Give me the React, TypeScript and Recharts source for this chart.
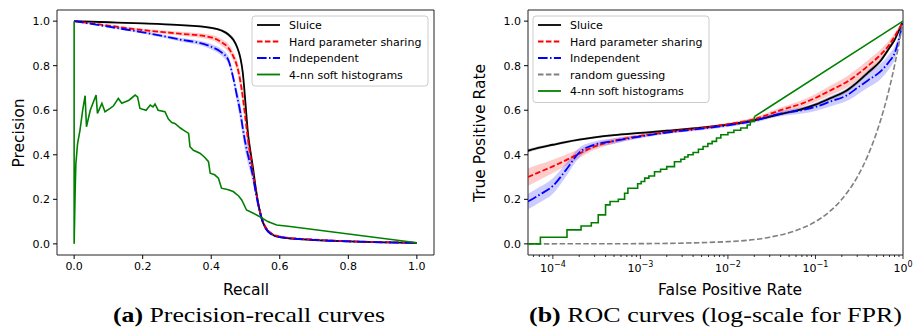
import { ComposedChart, Line, Area, XAxis, YAxis, ReferenceArea } from 'recharts'

const FONT = '"DejaVu Sans", sans-serif'

// ---- (a) precision-recall ----
const RECALL = [0, 0.1, 0.2, 0.3, 0.4, 0.43, 0.45, 0.465, 0.475, 0.485, 0.492, 0.5, 0.507, 0.515, 0.522, 0.53, 0.54, 0.55, 0.56, 0.575, 0.6, 0.7, 0.8, 0.9, 1.0]
const PR_SLUICE = [1.0, 0.995, 0.99, 0.983, 0.97, 0.958, 0.94, 0.915, 0.885, 0.835, 0.77, 0.63, 0.5, 0.41, 0.34, 0.25, 0.16, 0.1, 0.068, 0.045, 0.03, 0.017, 0.011, 0.007, 0.004]
const PR_HARD = [1.0, 0.98, 0.96, 0.945, 0.927, 0.905, 0.88, 0.84, 0.8, 0.73, 0.66, 0.56, 0.47, 0.39, 0.32, 0.24, 0.16, 0.105, 0.072, 0.048, 0.033, 0.019, 0.012, 0.008, 0.005]
const PR_INDEP = [1.0, 0.975, 0.95, 0.92, 0.885, 0.86, 0.825, 0.74, 0.665, 0.59, 0.52, 0.45, 0.4, 0.35, 0.3, 0.23, 0.155, 0.1, 0.066, 0.044, 0.03, 0.018, 0.011, 0.007, 0.004]
const PR_SPREAD_SLUICE = [0, 0.002, 0.003, 0.004, 0.005, 0.006, 0.008, 0.01, 0.012, 0.015, 0.02, 0.02, 0.02, 0.02, 0.015, 0.012, 0.01, 0.008, 0.005, 0.004, 0.003, 0.002, 0.002, 0.002, 0.002]
const PR_SPREAD_HARD = [0, 0.004, 0.006, 0.008, 0.012, 0.015, 0.018, 0.02, 0.025, 0.035, 0.04, 0.04, 0.04, 0.035, 0.03, 0.025, 0.02, 0.012, 0.008, 0.005, 0.004, 0.003, 0.003, 0.003, 0.002]
const PR_SPREAD_INDEP = [0, 0.004, 0.006, 0.008, 0.012, 0.015, 0.018, 0.022, 0.03, 0.04, 0.04, 0.04, 0.04, 0.035, 0.03, 0.025, 0.02, 0.012, 0.008, 0.005, 0.004, 0.003, 0.003, 0.003, 0.002]

const KNN_RECALL = [0, 0, 0.003, 0.005, 0.01, 0.017, 0.025, 0.032, 0.036, 0.047, 0.064, 0.068, 0.081, 0.09, 0.105, 0.115, 0.129, 0.139, 0.16, 0.178, 0.185, 0.192, 0.21, 0.222, 0.23, 0.236, 0.245, 0.265, 0.275, 0.285, 0.294, 0.31, 0.319, 0.334, 0.338, 0.348, 0.367, 0.38, 0.392, 0.397, 0.41, 0.421, 0.43, 0.45, 0.464, 0.48, 0.489, 0.503, 0.52, 0.542, 0.565, 0.591, 0.63, 1.0]
const KNN_PREC = [1.0, 0.0, 0.24, 0.36, 0.45, 0.51, 0.6, 0.665, 0.526, 0.6, 0.668, 0.586, 0.631, 0.593, 0.608, 0.62, 0.653, 0.631, 0.645, 0.668, 0.66, 0.608, 0.6, 0.623, 0.615, 0.628, 0.6, 0.593, 0.56, 0.545, 0.541, 0.52, 0.511, 0.496, 0.436, 0.42, 0.407, 0.39, 0.369, 0.317, 0.31, 0.295, 0.25, 0.243, 0.235, 0.215, 0.197, 0.152, 0.14, 0.122, 0.1, 0.085, 0.078, 0.005]

const UNIT_TICKS = [0, 0.2, 0.4, 0.6, 0.8, 1.0]

// ---- (b) ROC, log FPR ----
const FPR = [5.2e-5, 7e-5, 1e-4, 1.4e-4, 2e-4, 3e-4, 5e-4, 1e-3, 2e-3, 5e-3, 1e-2, 2e-2, 4e-2, 7e-2, 0.1, 0.15, 0.23, 0.3, 0.4, 0.55, 0.7, 0.8, 0.9, 1.0]
const ROC_SLUICE = [0.418, 0.432, 0.445, 0.457, 0.468, 0.478, 0.488, 0.498, 0.508, 0.522, 0.535, 0.555, 0.583, 0.605, 0.625, 0.655, 0.69, 0.725, 0.77, 0.82, 0.88, 0.915, 0.958, 1.0]
const ROC_HARD = [0.3, 0.322, 0.348, 0.375, 0.405, 0.437, 0.462, 0.485, 0.502, 0.52, 0.537, 0.56, 0.6, 0.63, 0.655, 0.69, 0.728, 0.76, 0.8, 0.848, 0.895, 0.93, 0.965, 1.0]
const ROC_INDEP = [0.19, 0.22, 0.26, 0.33, 0.41, 0.445, 0.462, 0.482, 0.5, 0.517, 0.532, 0.553, 0.585, 0.6, 0.615, 0.64, 0.668, 0.7, 0.735, 0.773, 0.82, 0.855, 0.92, 1.0]
const ROC_SPREAD_SLUICE = [0.008, 0.007, 0.006, 0.006, 0.005, 0.005, 0.005, 0.005, 0.005, 0.005, 0.005, 0.005, 0.006, 0.007, 0.008, 0.009, 0.01, 0.01, 0.01, 0.01, 0.009, 0.008, 0.006, 0.002]
const ROC_SPREAD_HARD = [0.04, 0.035, 0.03, 0.025, 0.02, 0.015, 0.012, 0.008, 0.007, 0.007, 0.007, 0.008, 0.012, 0.015, 0.018, 0.022, 0.025, 0.026, 0.026, 0.024, 0.02, 0.016, 0.01, 0.003]
const ROC_SPREAD_INDEP = [0.035, 0.035, 0.035, 0.03, 0.022, 0.015, 0.012, 0.008, 0.007, 0.007, 0.007, 0.008, 0.012, 0.015, 0.018, 0.022, 0.026, 0.03, 0.033, 0.035, 0.033, 0.03, 0.02, 0.003]

const RANDOM_FPR = [5.2e-5, 1e-3, 1e-2, 0.03, 0.06, 0.1, 0.15, 0.2, 0.3, 0.4, 0.5, 0.6, 0.7, 0.8, 0.9, 1.0]
const RANDOM_TPR = [5.2e-5, 1e-3, 1e-2, 0.03, 0.06, 0.1, 0.15, 0.2, 0.3, 0.4, 0.5, 0.6, 0.7, 0.8, 0.9, 1.0]

const KNN_FPR = [5.2e-5, 7.2e-5, 1.45e-4, 2.1e-4, 2.75e-4, 3.3e-4, 4e-4, 4.5e-4, 5.6e-4, 6.6e-4, 7.2e-4, 9.3e-4, 1.02e-3, 1.12e-3, 1.25e-3, 1.45e-3, 1.7e-3, 2.0e-3, 2.45e-3, 2.9e-3, 3.2e-3, 3.5e-3, 4e-3, 4.6e-3, 5.2e-3, 5.9e-3, 6.6e-3, 7.4e-3, 8.3e-3, 1e-2, 1.17e-2, 1.4e-2, 1.66e-2, 1.8e-2, 2.0e-2]
const KNN_TPR = [0, 0.03, 0.063, 0.08, 0.095, 0.13, 0.175, 0.19, 0.2, 0.227, 0.25, 0.27, 0.28, 0.295, 0.305, 0.324, 0.335, 0.347, 0.369, 0.38, 0.39, 0.4, 0.41, 0.425, 0.437, 0.45, 0.46, 0.475, 0.49, 0.5, 0.51, 0.52, 0.534, 0.55, 0.571]
const KNN_TAIL_FPR = [2.0e-2, 1.0]
const KNN_TAIL_TPR = [0.571, 1.0]

const FPR_MAJOR = [1e-4, 1e-3, 1e-2, 1e-1, 1]
const FPR_MINOR = [6e-5, 7e-5, 8e-5, 9e-5, 2e-4, 3e-4, 4e-4, 5e-4, 6e-4, 7e-4, 8e-4, 9e-4, 2e-3, 3e-3, 4e-3, 5e-3, 6e-3, 7e-3, 8e-3, 9e-3, 2e-2, 3e-2, 4e-2, 5e-2, 6e-2, 7e-2, 8e-2, 9e-2, 0.2, 0.3, 0.4, 0.5, 0.6, 0.7, 0.8, 0.9]

const pts = (xs: number[], ys: number[]) => xs.map((x, i) => ({ x, y: ys[i] }))
const band = (xs: number[], ys: number[], sp: number[]) =>
  xs.map((x, i) => ({ x, range: [ys[i] - sp[i], ys[i] + sp[i]] }))

const DASH = '5.5 2.4'
const DASHDOT = '9.6 2.4 1.5 2.4'

const SERIES = [
  { name: 'Sluice', color: '#000000', dash: undefined as string | undefined },
  { name: 'Hard parameter sharing', color: '#ff0000', dash: DASH },
  { name: 'Independent', color: '#0000ff', dash: DASHDOT },
  { name: 'random guessing', color: '#808080', dash: DASH },
  { name: '4-nn soft histograms', color: '#008000', dash: undefined },
]

const tickStyle = { fill: '#000', fontSize: 11, fontFamily: FONT }

function LogTick(props: any) {
  const { x, y, payload } = props
  const v = payload.value
  const major = FPR_MAJOR.includes(v)
  const exp = Math.round(Math.log10(v))
  return (
    <g>
      <line x1={x} x2={x} y1={y} y2={y + (major ? 4 : 2)} stroke="#000" strokeWidth={0.8} />
      {major && (
        <text x={x} y={y + 17} textAnchor="middle" fontSize={11} fontFamily={FONT} fill="#000">
          10<tspan dy={-5} fontSize={8}>{exp === 0 ? '0' : '\u2212' + Math.abs(exp)}</tspan>
        </text>
      )}
    </g>
  )
}

function LegendBox({ x, y, w, items }: { x: number; y: number; w: number; items: typeof SERIES }) {
  const rowH = 16.5
  return (
    <g>
      <rect x={x} y={y} width={w} height={items.length * rowH + 4} rx={3} fill="#fff" fillOpacity={0.85} stroke="#ccc" strokeWidth={1} />
      {items.map((s, i) => {
        const cy = y + 9 + i * rowH
        return (
          <g key={s.name}>
            <line x1={x + 5} x2={x + 28} y1={cy} y2={cy} stroke={s.color} strokeWidth={1.8} strokeDasharray={s.dash} />
            <text x={x + 37} y={cy + 4} fontSize={11} fontFamily={FONT} fill="#000">{s.name}</text>
          </g>
        )
      })}
    </g>
  )
}

export default function App() {
  const prItems = SERIES.filter((s) => s.name !== 'random guessing')
  return (
    <div style={{ position: 'absolute', left: 0, top: 0, width: 917, height: 329, background: '#fff', overflow: 'hidden' }}>
      <div style={{ position: 'absolute', left: 0, top: 0 }}>
        <ComposedChart width={445} height={300} margin={{ top: 10, right: 11, bottom: 0, left: 0 }}>
          <XAxis type="number" dataKey="x" domain={[-0.05, 1.05]} ticks={UNIT_TICKS} allowDataOverflow
            tickFormatter={(v) => v.toFixed(1)} height={45} tickSize={4} tickMargin={3}
            axisLine={false} tickLine={{ stroke: '#000' }} tick={tickStyle} interval={0} />
          <YAxis type="number" domain={[-0.05, 1.05]} ticks={UNIT_TICKS} allowDataOverflow
            tickFormatter={(v) => v.toFixed(1)} width={57} tickSize={4} tickMargin={3}
            axisLine={false} tickLine={{ stroke: '#000' }} tick={tickStyle} interval={0} />
          <Area data={band(RECALL, PR_SLUICE, PR_SPREAD_SLUICE)} dataKey="range" type="monotone" stroke="none" fill="#000" fillOpacity={0.2} isAnimationActive={false} />
          <Area data={band(RECALL, PR_HARD, PR_SPREAD_HARD)} dataKey="range" type="monotone" stroke="none" fill="#ff0000" fillOpacity={0.2} isAnimationActive={false} />
          <Area data={band(RECALL, PR_INDEP, PR_SPREAD_INDEP)} dataKey="range" type="monotone" stroke="none" fill="#0000ff" fillOpacity={0.2} isAnimationActive={false} />
          <Line data={pts(RECALL, PR_SLUICE)} dataKey="y" type="monotone" stroke="#000" strokeWidth={1.8} dot={false} activeDot={false} isAnimationActive={false} />
          <Line data={pts(RECALL, PR_HARD)} dataKey="y" type="monotone" stroke="#ff0000" strokeWidth={1.8} strokeDasharray={DASH} dot={false} activeDot={false} isAnimationActive={false} />
          <Line data={pts(RECALL, PR_INDEP)} dataKey="y" type="monotone" stroke="#0000ff" strokeWidth={1.8} strokeDasharray={DASHDOT} dot={false} activeDot={false} isAnimationActive={false} />
          <Line data={pts(KNN_RECALL, KNN_PREC)} dataKey="y" type="linear" stroke="#008000" strokeWidth={1.6} dot={false} activeDot={false} isAnimationActive={false} />
          <ReferenceArea x1={-0.05} x2={1.05} y1={-0.05} y2={1.05} fill="none" fillOpacity={0} stroke="#222" strokeWidth={1} ifOverflow="visible" />
        </ComposedChart>
      </div>
      <div style={{ position: 'absolute', left: 440, top: 0 }}>
        <ComposedChart width={477} height={300} margin={{ top: 10, right: 14, bottom: 0, left: 0 }}>
          <XAxis type="number" dataKey="x" scale="log" domain={[5.2e-5, 1]} allowDataOverflow
            ticks={[...FPR_MAJOR, ...FPR_MINOR]} interval={0} height={45} tickSize={0} tickMargin={0}
            axisLine={false} tickLine={false} tick={<LogTick />} />
          <YAxis type="number" domain={[-0.05, 1.05]} ticks={UNIT_TICKS} allowDataOverflow
            tickFormatter={(v) => v.toFixed(1)} width={88} tickSize={4} tickMargin={3}
            axisLine={false} tickLine={{ stroke: '#000' }} tick={tickStyle} interval={0} />
          <Area data={band(FPR, ROC_SLUICE, ROC_SPREAD_SLUICE)} dataKey="range" type="monotone" stroke="none" fill="#000" fillOpacity={0.2} isAnimationActive={false} />
          <Area data={band(FPR, ROC_HARD, ROC_SPREAD_HARD)} dataKey="range" type="monotone" stroke="none" fill="#ff0000" fillOpacity={0.2} isAnimationActive={false} />
          <Area data={band(FPR, ROC_INDEP, ROC_SPREAD_INDEP)} dataKey="range" type="monotone" stroke="none" fill="#0000ff" fillOpacity={0.2} isAnimationActive={false} />
          <Line data={pts(FPR, ROC_SLUICE)} dataKey="y" type="monotone" stroke="#000" strokeWidth={1.8} dot={false} activeDot={false} isAnimationActive={false} />
          <Line data={pts(FPR, ROC_HARD)} dataKey="y" type="monotone" stroke="#ff0000" strokeWidth={1.8} strokeDasharray={DASH} dot={false} activeDot={false} isAnimationActive={false} />
          <Line data={pts(FPR, ROC_INDEP)} dataKey="y" type="monotone" stroke="#0000ff" strokeWidth={1.8} strokeDasharray={DASHDOT} dot={false} activeDot={false} isAnimationActive={false} />
          <Line data={pts(RANDOM_FPR, RANDOM_TPR)} dataKey="y" type="monotone" stroke="#808080" strokeWidth={1.6} strokeDasharray={DASH} dot={false} activeDot={false} isAnimationActive={false} />
          <Line data={pts(KNN_FPR, KNN_TPR)} dataKey="y" type="stepAfter" stroke="#008000" strokeWidth={1.6} dot={false} activeDot={false} isAnimationActive={false} />
          <Line data={pts(KNN_TAIL_FPR, KNN_TAIL_TPR)} dataKey="y" type="linear" stroke="#008000" strokeWidth={1.6} dot={false} activeDot={false} isAnimationActive={false} />
          <ReferenceArea x1={5.2e-5} x2={1} y1={-0.05} y2={1.05} fill="none" fillOpacity={0} stroke="#222" strokeWidth={1} ifOverflow="visible" />
        </ComposedChart>
      </div>
      <svg width={917} height={329} style={{ position: 'absolute', left: 0, top: 0, pointerEvents: 'none' }}>
        <LegendBox x={252} y={16} w={176} items={prItems} />
        <LegendBox x={533} y={16} w={176} items={SERIES} />
        <text x={246} y={295} textAnchor="middle" fontSize={15.5} fontFamily={FONT} fill="#000">Recall</text>
        <text x={730} y={295} textAnchor="middle" fontSize={15.5} fontFamily={FONT} fill="#000">False Positive Rate</text>
        <text transform="translate(24,133) rotate(-90)" textAnchor="middle" fontSize={15.5} fontFamily={FONT} fill="#000">Precision</text>
        <text transform="translate(485,133) rotate(-90)" textAnchor="middle" fontSize={15.5} fontFamily={FONT} fill="#000">True Positive Rate</text>
        <text x={113} y={322} fontSize={21} fontFamily='"Liberation Serif", serif' fill="#000" textLength={272} lengthAdjust="spacingAndGlyphs">
          <tspan fontWeight="bold">(a)</tspan> Precision-recall curves
        </text>
        <text x={529} y={322} fontSize={21} fontFamily='"Liberation Serif", serif' fill="#000" textLength={373} lengthAdjust="spacingAndGlyphs">
          <tspan fontWeight="bold">(b)</tspan> ROC curves (log-scale for FPR)
        </text>
      </svg>
    </div>
  )
}
